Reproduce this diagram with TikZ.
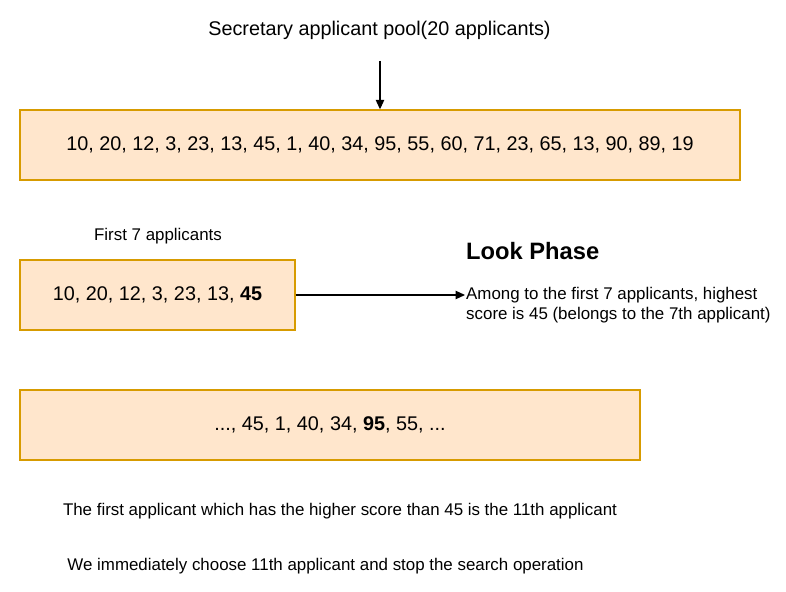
\documentclass[tikz,border=0pt]{standalone}
\usepackage{fontspec}
\setmainfont{Liberation Sans}
\usetikzlibrary{arrows.meta}
\definecolor{boxfill}{HTML}{FFE6CC}
\definecolor{boxdraw}{HTML}{D79B00}
\begin{document}
\begin{tikzpicture}[x=1pt,y=-1pt,
  numbox/.style={draw=boxdraw,fill=boxfill,line width=1.4pt,minimum height=70pt,inner sep=0pt,font=\fontsize{19.8}{23}\selectfont},
  bigtext/.style={font=\fontsize{19.8}{23}\selectfont,inner sep=0pt},
  smalltext/.style={font=\fontsize{16.9}{20.5}\selectfont,inner sep=0pt},
  conn/.style={line width=1.1pt,-{Triangle[length=9.5pt,width=8.5pt]}}]
\useasboundingbox (0,0) rectangle (786,591);
\node[bigtext] (title) at (379.5,30) {Secretary applicant pool(20 applicants)};
\node[numbox,minimum width=720pt] (pool) at (380,145) {10, 20, 12, 3, 23, 13, 45, 1, 40, 34, 95, 55, 60, 71, 23, 65, 13, 90, 89, 19};
\coordinate (t) at (380,61);
\draw[conn] (t) -- (pool.north);
\node[smalltext] (first) at (158,236) {First 7 applicants};
\node[numbox,minimum width=275pt] (look) at (157.5,295) {10, 20, 12, 3, 23, 13, \textbf{45}};
\node[font=\bfseries\fontsize{23.7}{28}\selectfont,inner sep=0pt,anchor=west] (phase) at (466,251.5) {Look Phase};
\node[smalltext,anchor=west,align=left] (among) at (466,305) {Among to the first 7 applicants, highest\\score is 45 (belongs to the 7th applicant)};
\draw[conn] (look.east) -- ([xshift=-1pt]among.west |- look.east);
\node[numbox,minimum width=620pt] (rest) at (330,425) {..., 45, 1, 40, 34, \textbf{95}, 55, ...};
\node[smalltext] (res1) at (340,511) {The first applicant which has the higher score than 45 is the 11th applicant};
\node[smalltext] (res2) at (325.5,566) {We immediately choose 11th applicant and stop the search operation};
\end{tikzpicture}
\end{document}
